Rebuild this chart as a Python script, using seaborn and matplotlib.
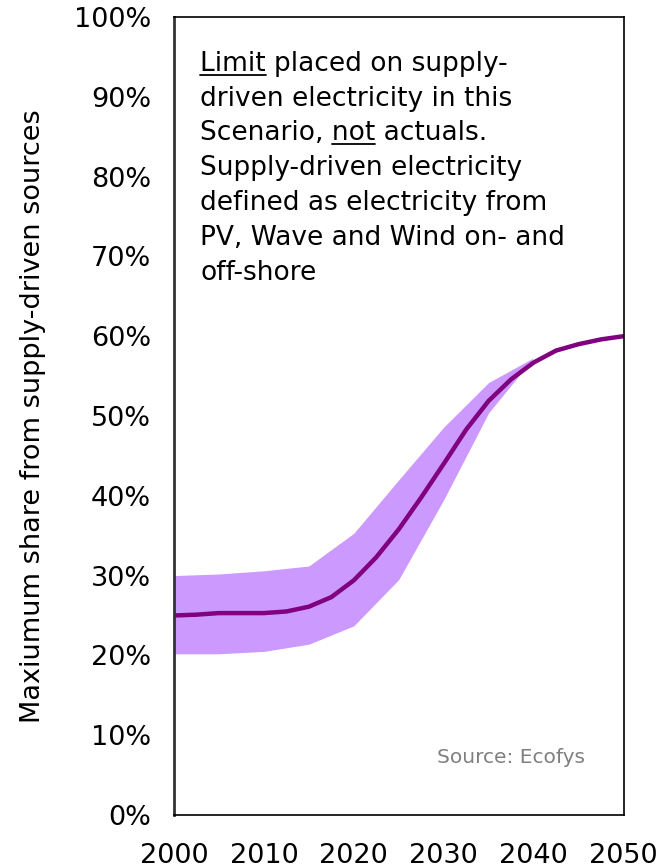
import numpy as np
import pandas as pd
import matplotlib
matplotlib.use("Agg")
import matplotlib.pyplot as plt
import seaborn as sns
from matplotlib.ticker import MultipleLocator, FuncFormatter
from matplotlib.lines import Line2D

# Central limit path (share of supply-driven electricity)
years = [2000, 2002.5, 2005, 2007.5, 2010, 2012.5, 2015, 2017.5, 2020, 2022.5,
         2025, 2027.5, 2030, 2032.5, 2035, 2037.5, 2040, 2042.5, 2045, 2047.5, 2050]
share = [25.0, 25.1, 25.3, 25.3, 25.3, 25.5, 26.1, 27.3, 29.4, 32.3,
         35.8, 39.8, 44.0, 48.3, 51.9, 54.6, 56.7, 58.2, 59.0, 59.6, 60.0]

# Uncertainty band
band_years = [2000, 2005, 2010, 2015, 2020, 2025, 2030, 2035, 2040]
band_upper = [30.0, 30.2, 30.6, 31.2, 35.3, 42.0, 48.6, 54.2, 57.3]
band_lower = [20.2, 20.2, 20.5, 21.4, 23.7, 29.5, 39.5, 50.4, 57.3]

note_lines = ["Limit placed on supply-",
              "driven electricity in this",
              "Scenario, not actuals.",
              "Supply-driven electricity",
              "defined as electricity from",
              "PV, Wave and Wind on- and",
              "off-shore"]

sns.set_style("white")
plt.rcParams['font.family'] = ['DejaVu Sans']

fig = plt.figure(figsize=(6.61, 8.68), dpi=100)
ax = fig.add_axes([0.2632, 0.0611, 0.6801, 0.9193])

ax.fill_between(band_years, band_lower, band_upper, color='#CC99FF', linewidth=0)
df = pd.DataFrame({'year': years, 'share': share})
sns.lineplot(data=df, x='year', y='share', ax=ax, color='#800080', linewidth=3.2)

ax.set_xlim(2000, 2050)
ax.set_ylim(0, 100)
ax.xaxis.set_major_locator(MultipleLocator(10))
ax.xaxis.set_minor_locator(MultipleLocator(5))
ax.yaxis.set_major_locator(MultipleLocator(10))
ax.yaxis.set_major_formatter(FuncFormatter(lambda v, p: f'{v:.0f}%'))
ax.tick_params(axis='both', which='both', direction='out', length=6.5, width=1,
               color='#333333', labelsize=19.5, labelcolor='black')
ax.tick_params(axis='x', which='major', pad=14)
ax.tick_params(axis='y', pad=10)
ax.set_xlabel('')
ax.set_ylabel('Maxiumum share from supply-driven sources', fontsize=19.5,
              labelpad=20, color='black')

for s in ['top', 'right', 'bottom']:
    ax.spines[s].set_color('black')
    ax.spines[s].set_linewidth(1.2)
ax.spines['left'].set_color('#333333')
ax.spines['left'].set_linewidth(2)

# Note text, line by line
x0, y0, dy = 0.058, 0.9415, 0.0437
fs = 19
texts = []
for i, line in enumerate(note_lines):
    texts.append(ax.text(x0, y0 - i * dy, line, transform=ax.transAxes,
                         fontsize=fs, va='center', ha='left', color='black'))

ax.text(0.915, 0.072, 'Source: Ecofys', transform=ax.transAxes, fontsize=14.5,
        color='#808080', ha='right', va='center')

# Underline "Limit" and "not"
fig.canvas.draw()
renderer = fig.canvas.get_renderer()


def underline(txt, prefix, word):
    bb = txt.get_window_extent(renderer)
    tmp = ax.text(0, 0, prefix, fontsize=fs)
    w_pre = tmp.get_window_extent(renderer).width if prefix else 0
    tmp.set_text(word)
    w_word = tmp.get_window_extent(renderer).width
    tmp.remove()
    yline = bb.y0 + 2
    x_start = bb.x0 + w_pre
    inv = fig.transFigure.inverted()
    (fx0, fy), (fx1, _) = inv.transform([(x_start, yline), (x_start + w_word, yline)])
    fig.add_artist(Line2D([fx0, fx1], [fy, fy], color='black', linewidth=1.3))


underline(texts[0], '', 'Limit')
underline(texts[2], 'Scenario, ', 'not')

fig.savefig('out.png', dpi=100)
